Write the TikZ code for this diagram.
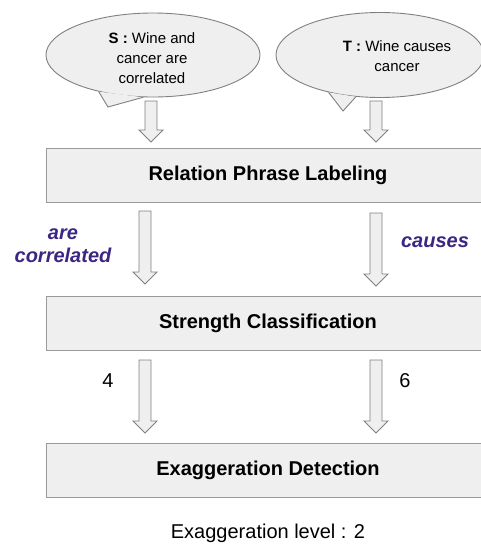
\documentclass[tikz,border=0pt]{standalone}
\usepackage{fontspec}
\setmainfont{Liberation Sans}
\usetikzlibrary{shapes.geometric}
\usetikzlibrary{calc}
\definecolor{boxgray}{HTML}{EFEFEF}
\definecolor{linegray}{HTML}{9A9A9A}
\definecolor{edgegray}{HTML}{808080}
\definecolor{phrasecol}{HTML}{3B2783}

\begin{document}
\begin{tikzpicture}[x=1pt,y=-1pt,
	stage/.style={draw=linegray,fill=boxgray,line width=0.9pt,minimum width=444pt,minimum height=54pt,inner sep=0pt,font=\fontsize{20}{24}\selectfont\bfseries},
	bubble/.style={ellipse,draw=edgegray,fill=boxgray,line width=0.9pt,inner sep=0pt},
	bubbletext/.style={align=center,inner sep=0pt,font=\fontsize{15}{20}\selectfont},
	tag/.style={align=center,inner sep=0pt,font=\fontsize{20}{23}\selectfont},
	phrase/.style={tag,text=phrasecol,font=\fontsize{20}{23}\selectfont\bfseries\itshape},
	hollow/.style={draw=edgegray,fill=boxgray,line width=0.8pt,line join=miter,
		to path={let \p1=(\tikztostart),\p2=(\tikztotarget) in
			(\x1-6pt,\y1)--(\x1+6pt,\y1)--(\x1+6pt,\y2+12pt)--(\x1+12pt,\y2+12pt)
			--(\x1,\y2)--(\x1-12pt,\y2+12pt)--(\x1-6pt,\y2+12pt)--cycle}}]
	\useasboundingbox (0,0) rectangle (481,544);
	\clip (0,0) rectangle (481,544);
	% speech bubbles
	\node[bubble,minimum width=214pt,minimum height=84pt] (sbub) at (153,55) {};
	\fill[boxgray] (sbub.214) -- (108,107) -- (sbub.257) -- cycle;
	\draw[edgegray,line width=0.9pt] (sbub.214) -- (108,107) -- (sbub.257);
	\node[bubble,minimum width=208pt,minimum height=85pt] (tbub) at (380,55) {};
	\fill[boxgray] (tbub.216) -- (343,111) -- (tbub.240) -- cycle;
	\draw[edgegray,line width=0.9pt] (tbub.216) -- (343,111) -- (tbub.240);
	\node[bubbletext] (stxt) at (152,58) {\textbf{S :} Wine and\\cancer are\\correlated};
	\node[bubbletext] (ttxt) at (397,56) {\textbf{T :} Wine causes\\cancer};
	% stages
	\node[stage] (rpl) at (268,175) {Relation Phrase Labeling};
	\node[stage] (sc) at (268,323) {Strength Classification};
	\node[stage] (ed) at (268,470) {Exaggeration Detection};
	% hollow arrows
	\coordinate (sa1) at (151,101); \coordinate (se1) at (151,142);
	\coordinate (ta1) at (376,101); \coordinate (te1) at (376,142);
	\coordinate (sa2) at (145,211); \coordinate (se2) at (145,284);
	\coordinate (ta2) at (376,213); \coordinate (te2) at (376,286);
	\coordinate (sa3) at (145,360); \coordinate (se3) at (145,433);
	\coordinate (ta3) at (376,360); \coordinate (te3) at (376,433);
	\foreach \i in {1,2,3}
		{\draw[hollow] (sa\i) to (se\i);
		 \draw[hollow] (ta\i) to (te\i);
	};
	% labels
	\node[phrase] (scor) at (63,246) {are\\correlated};
	\node[phrase] (tcau) at (435,242) {causes};
	\node[tag] (sval) at (108,381) {4};
	\node[tag] (tval) at (405,381) {6};
	\node[tag] (lvl) at (268,533) {Exaggeration level : 2};
\end{tikzpicture}
\end{document}
